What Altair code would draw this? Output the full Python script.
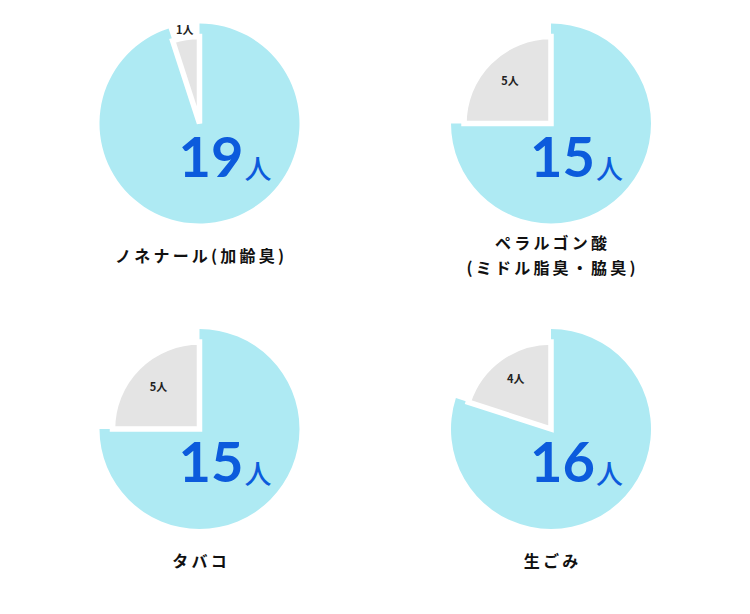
import altair as alt
import pandas as pd

titles = ["ノネナール(加齢臭)", "ペラルゴン酸\n(ミドル脂臭・脇臭)", "タバコ", "生ごみ"]
main_counts = [19, 15, 15, 16]
other_counts = [1, 5, 5, 4]
unit = "人"

BLUE = "#aeeaf3"
GREY = "#e4e4e4"
DARK = "#0c5bdc"
JP = "Noto Sans CJK JP"

W, H = 340, 300
CX, CY = 170, 118.5
R_MAIN, R_OTHER = 100, 87
small_radius = [94, 58, 58, 60]
LINE_H = 25


def spaced(t):
    return "\n".join("\u2009".join(line) for line in t.split("\n"))


def pie(i):
    df = pd.DataFrame({"slice": ["main", "other"],
                       "value": [main_counts[i], other_counts[i]]})
    base = (
        alt.Chart(df)
        .transform_joinaggregate(total="sum(value)")
        .transform_window(cum="sum(value)", sort=[alt.SortField("slice")],
                          frame=[None, 0])
        .transform_calculate(
            t0="(datum.cum - datum.value) / datum.total",
            t1="datum.cum / datum.total",
            tm="(datum.cum - datum.value / 2) / datum.total",
            label=f"datum.value + '{unit}'",
        )
    )
    tscale = alt.Scale(domain=[0, 1])
    is_main = alt.datum.slice == "main"
    main_arc = base.transform_filter(is_main).mark_arc(
        radius=R_MAIN, color=BLUE, strokeWidth=0
    ).encode(
        theta=alt.Theta("t0:Q", scale=tscale), theta2="t1:Q",
        x=alt.value(CX), y=alt.value(CY),
    )
    other = base.transform_filter(~is_main)
    other_arc = other.mark_arc(
        radius=R_OTHER, color=GREY, stroke="white", strokeWidth=5.5
    ).encode(
        theta=alt.Theta("t0:Q", scale=tscale), theta2="t1:Q",
        x=alt.value(CX), y=alt.value(CY),
    )
    small = other.mark_text(radius=small_radius[i], font=JP, fontSize=11,
                            fontWeight="bold", color="#222222").encode(
        theta=alt.Theta("tm:Q", scale=tscale),
        x=alt.value(CX), y=alt.value(CY),
        text="label:N",
    )
    mainonly = base.transform_filter(is_main)
    big = mainonly.mark_text(font="Lato", fontSize=56, fontWeight="bold", color=DARK,
                             align="right", baseline="alphabetic").encode(
        x=alt.value(CX + 44), y=alt.value(CY + 53), text="value:Q")
    bigunit = mainonly.mark_text(font=JP, fontSize=27, fontWeight=500, color=DARK,
                                 align="left", baseline="alphabetic").encode(
        x=alt.value(CX + 45), y=alt.value(CY + 55), text=alt.value(unit))
    t = titles[i]
    nlines = t.count("\n") + 1
    tdf = pd.DataFrame({"t": [spaced(t)]})
    title = alt.Chart(tdf).mark_text(font=JP, fontSize=16, fontWeight="bold", color="#111111",
                                     lineBreak="\n", lineHeight=LINE_H, baseline="middle",
                                     align="center").encode(
        x=alt.value(CX), y=alt.value(251.5 - LINE_H / 2 * (nlines - 1)), text="t:N")
    return alt.layer(main_arc, other_arc, small, big, bigunit, title).properties(width=W, height=H)


row1 = alt.hconcat(pie(0), pie(1), spacing=11.5)
row2 = alt.hconcat(pie(2), pie(3), spacing=11.5)
chart = (
    alt.vconcat(row1, row2, spacing=5.5)
    .properties(padding={"left": 29.5, "top": 5, "right": 5, "bottom": 0},
                background="white")
    .configure_view(strokeWidth=0)
)

chart.save("out.html", embed_options={"renderer": "svg", "actions": False})
